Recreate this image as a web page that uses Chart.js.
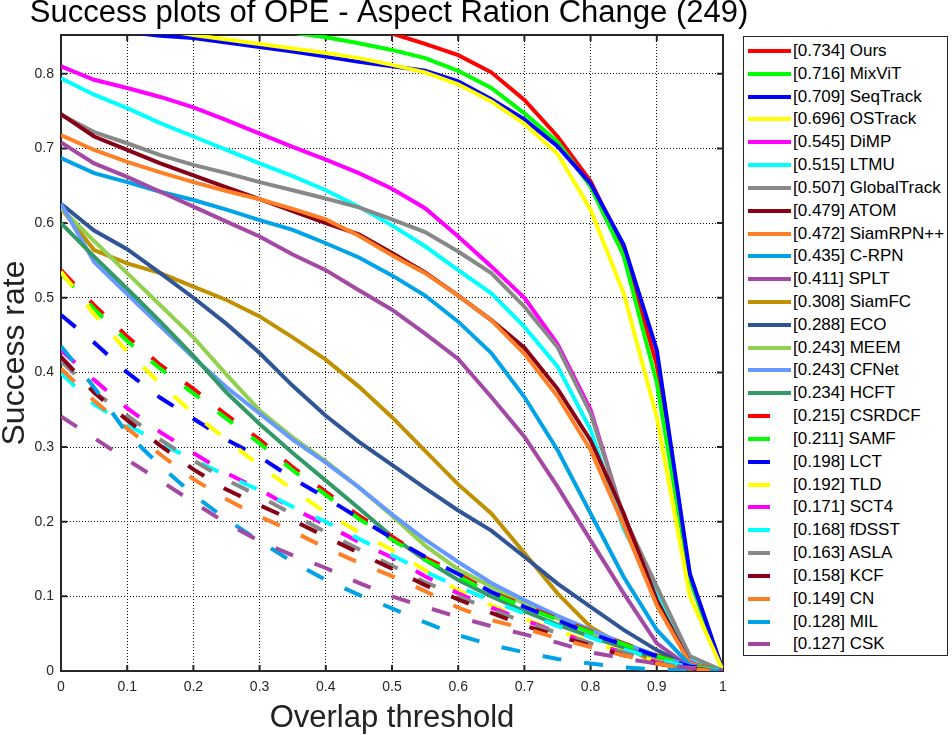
<!DOCTYPE html>
<html lang="en">
<head>
  <meta charset="UTF-8">
  <title>Success plots of OPE - Aspect Ration Change (249)</title>
  <script src="https://cdn.jsdelivr.net/npm/chart.js"></script>
  <style>
    html, body {
      margin: 0;
      padding: 0;
      background: #fff;
    }
    body {
      font-family: "Liberation Sans", Arial, sans-serif;
    }
    #wrap {
      position: relative;
      width: 952px;
      height: 735px;
      overflow: hidden;
    }
    #plot {
      position: absolute;
      left: 0;
      top: 0;
    }
    #legend {
      position: absolute;
      left: 743px;
      top: 36px;
      width: 205px;
      height: 620px;
      border: 1px solid #262626;
      box-sizing: border-box;
      background: #fff;
    }
    .row {
      position: absolute;
      left: 0;
      height: 20px;
      font-size: 17px;
      line-height: 20px;
      color: #000;
      white-space: nowrap;
    }
    .swatch {
      position: absolute;
      left: 4px;
      top: 8px;
      height: 4px;
    }
    .label {
      position: absolute;
      left: 49px;
      top: 0;
    }
  </style>
</head>
<body>
  <div id="wrap">
    <canvas id="plot" width="952" height="735"></canvas>
    <div id="legend"></div>
  </div>

  <script>
    const plotTitle = 'Success plots of OPE - Aspect Ration Change (249)';

    // overlap thresholds (x) and tick labels
    const thresholds = [0, 0.05, 0.1, 0.15, 0.2, 0.25, 0.3, 0.35, 0.4, 0.45, 0.5,
                        0.55, 0.6, 0.65, 0.7, 0.75, 0.8, 0.85, 0.9, 0.95, 1];
    const xTicks = [0, 0.1, 0.2, 0.3, 0.4, 0.5, 0.6, 0.7, 0.8, 0.9, 1];
    const yTicks = [0, 0.1, 0.2, 0.3, 0.4, 0.5, 0.6, 0.7, 0.8];

    const names = ['Ours', 'MixViT', 'SeqTrack', 'OSTrack', 'DiMP', 'LTMU', 'GlobalTrack',
                   'ATOM', 'SiamRPN++', 'C-RPN', 'SPLT', 'SiamFC', 'ECO', 'MEEM', 'CFNet',
                   'HCFT', 'CSRDCF', 'SAMF', 'LCT', 'TLD', 'SCT4', 'fDSST', 'ASLA', 'KCF',
                   'CN', 'MIL', 'CSK'];
    const aucScores = [0.734, 0.716, 0.709, 0.696, 0.545, 0.515, 0.507, 0.479, 0.472, 0.435,
                       0.411, 0.308, 0.288, 0.243, 0.243, 0.234, 0.215, 0.211, 0.198, 0.192,
                       0.171, 0.168, 0.163, 0.158, 0.149, 0.128, 0.127];

    // success rate per threshold
    const ours       = [0.91, 0.905, 0.9, 0.895, 0.89, 0.885, 0.879, 0.873, 0.867, 0.86, 0.854, 0.84, 0.825, 0.802, 0.765, 0.716, 0.656, 0.566, 0.41, 0.125, 0];
    const mixvit     = [0.885, 0.88, 0.875, 0.87, 0.866, 0.862, 0.858, 0.855, 0.849, 0.841, 0.832, 0.821, 0.804, 0.781, 0.747, 0.709, 0.649, 0.556, 0.386, 0.122, 0];
    const seqtrack   = [0.866, 0.861, 0.856, 0.851, 0.848, 0.842, 0.836, 0.83, 0.823, 0.816, 0.81, 0.804, 0.79, 0.766, 0.739, 0.703, 0.653, 0.571, 0.43, 0.13, 0];
    const ostrack    = [0.88, 0.873, 0.866, 0.859, 0.852, 0.846, 0.84, 0.834, 0.828, 0.821, 0.812, 0.802, 0.786, 0.763, 0.733, 0.693, 0.618, 0.506, 0.34, 0.1, 0];
    const dimp       = [0.81, 0.792, 0.781, 0.769, 0.755, 0.738, 0.72, 0.702, 0.685, 0.667, 0.646, 0.62, 0.582, 0.542, 0.5, 0.438, 0.35, 0.205, 0.1, 0.015, 0];
    const ltmu       = [0.794, 0.772, 0.754, 0.734, 0.716, 0.698, 0.68, 0.663, 0.644, 0.622, 0.597, 0.569, 0.537, 0.506, 0.461, 0.408, 0.323, 0.19, 0.105, 0.018, 0];
    const globaltrack = [0.745, 0.722, 0.707, 0.691, 0.678, 0.667, 0.655, 0.644, 0.633, 0.621, 0.605, 0.588, 0.562, 0.533, 0.488, 0.434, 0.345, 0.207, 0.113, 0.02, 0];
    const atom       = [0.746, 0.716, 0.698, 0.68, 0.664, 0.648, 0.632, 0.616, 0.6, 0.585, 0.56, 0.534, 0.503, 0.47, 0.433, 0.378, 0.309, 0.211, 0.095, 0.01, 0];
    const siamrpn    = [0.718, 0.698, 0.682, 0.668, 0.655, 0.643, 0.632, 0.619, 0.605, 0.583, 0.557, 0.533, 0.503, 0.47, 0.425, 0.368, 0.296, 0.195, 0.088, 0.01, 0];
    const crpn       = [0.687, 0.667, 0.655, 0.642, 0.631, 0.618, 0.604, 0.591, 0.573, 0.554, 0.53, 0.503, 0.468, 0.426, 0.367, 0.296, 0.211, 0.126, 0.055, 0.008, 0];
    const splt       = [0.708, 0.68, 0.662, 0.642, 0.622, 0.602, 0.582, 0.558, 0.537, 0.51, 0.484, 0.452, 0.418, 0.367, 0.314, 0.247, 0.175, 0.104, 0.037, 0.005, 0];
    const siamfc     = [0.62, 0.564, 0.546, 0.533, 0.515, 0.497, 0.475, 0.447, 0.417, 0.381, 0.34, 0.295, 0.25, 0.211, 0.158, 0.104, 0.059, 0.033, 0.01, 0.003, 0];
    const eco        = [0.626, 0.59, 0.565, 0.533, 0.5, 0.465, 0.426, 0.382, 0.342, 0.307, 0.276, 0.245, 0.215, 0.188, 0.153, 0.117, 0.086, 0.055, 0.028, 0.005, 0];
    const meem       = [0.62, 0.576, 0.533, 0.49, 0.447, 0.397, 0.349, 0.313, 0.281, 0.246, 0.208, 0.168, 0.136, 0.113, 0.09, 0.07, 0.052, 0.035, 0.019, 0.005, 0];
    const cfnet      = [0.626, 0.548, 0.505, 0.462, 0.42, 0.38, 0.345, 0.31, 0.279, 0.246, 0.21, 0.176, 0.146, 0.118, 0.095, 0.074, 0.055, 0.037, 0.021, 0.007, 0];
    const hcft       = [0.6, 0.555, 0.512, 0.468, 0.422, 0.373, 0.331, 0.292, 0.255, 0.218, 0.18, 0.149, 0.122, 0.1, 0.08, 0.062, 0.046, 0.031, 0.017, 0.005, 0];
    const csrdcf     = [0.537, 0.49, 0.448, 0.41, 0.378, 0.343, 0.31, 0.273, 0.24, 0.208, 0.18, 0.152, 0.13, 0.106, 0.088, 0.07, 0.053, 0.037, 0.021, 0.007, 0];
    const samf       = [0.533, 0.485, 0.442, 0.405, 0.372, 0.338, 0.305, 0.269, 0.236, 0.204, 0.176, 0.149, 0.127, 0.104, 0.086, 0.069, 0.052, 0.036, 0.02, 0.007, 0];
    const lct        = [0.477, 0.44, 0.4, 0.366, 0.338, 0.31, 0.287, 0.258, 0.232, 0.205, 0.178, 0.153, 0.13, 0.106, 0.086, 0.068, 0.05, 0.035, 0.02, 0.006, 0];
    const tld        = [0.535, 0.478, 0.428, 0.385, 0.345, 0.31, 0.275, 0.243, 0.212, 0.186, 0.162, 0.135, 0.108, 0.088, 0.07, 0.054, 0.039, 0.026, 0.013, 0.004, 0];
    const sct4       = [0.43, 0.39, 0.352, 0.32, 0.292, 0.265, 0.243, 0.218, 0.196, 0.173, 0.152, 0.127, 0.104, 0.085, 0.068, 0.052, 0.037, 0.025, 0.012, 0.004, 0];
    const fdsst      = [0.399, 0.357, 0.33, 0.305, 0.283, 0.262, 0.242, 0.22, 0.2, 0.177, 0.155, 0.133, 0.113, 0.094, 0.077, 0.06, 0.045, 0.029, 0.016, 0.005, 0];
    const asla       = [0.415, 0.374, 0.342, 0.31, 0.282, 0.256, 0.234, 0.21, 0.186, 0.163, 0.141, 0.119, 0.1, 0.082, 0.066, 0.051, 0.037, 0.025, 0.011, 0.003, 0];
    const kcf        = [0.421, 0.373, 0.336, 0.302, 0.27, 0.243, 0.222, 0.202, 0.18, 0.158, 0.137, 0.115, 0.096, 0.078, 0.061, 0.047, 0.034, 0.021, 0.01, 0.003, 0];
    const cn         = [0.405, 0.362, 0.325, 0.29, 0.257, 0.23, 0.207, 0.187, 0.165, 0.145, 0.127, 0.107, 0.085, 0.068, 0.057, 0.044, 0.032, 0.021, 0.01, 0.002, 0];
    const mil        = [0.435, 0.38, 0.318, 0.275, 0.236, 0.203, 0.174, 0.146, 0.122, 0.102, 0.084, 0.065, 0.048, 0.035, 0.025, 0.016, 0.01, 0.005, 0.002, 0.001, 0];
    const csk        = [0.341, 0.312, 0.283, 0.255, 0.226, 0.198, 0.174, 0.155, 0.138, 0.118, 0.1, 0.086, 0.072, 0.06, 0.049, 0.038, 0.025, 0.017, 0.01, 0.004, 0];

    const successRates = [ours, mixvit, seqtrack, ostrack, dimp, ltmu, globaltrack, atom, siamrpn,
                          crpn, splt, siamfc, eco, meem, cfnet, hcft, csrdcf, samf, lct, tld,
                          sct4, fdsst, asla, kcf, cn, mil, csk];

    // styles
    const baseColors = ['#ff0000', '#00ff00', '#0000ff', '#ffff00', '#ff00ff', '#00ffff',
                        '#888888', '#880015', '#ff7f27', '#00a2e8', '#a349a4', '#bf9000',
                        '#2f5597', '#92d050', '#6699ff', '#339966'];
    const lineColors = names.map((n, i) => baseColors[i < 16 ? i : i - 16]);
    const isDashed = names.map((n, i) => i >= 16);

    Chart.defaults.font.family = '"Liberation Sans", Arial, Helvetica, sans-serif';

    // box around the axes with inward ticks, like MATLAB
    const framePlugin = {
      id: 'frame',
      beforeDatasetsDraw(chart) {
        const { ctx, chartArea: a, scales: { x, y } } = chart;
        ctx.save();
        ctx.strokeStyle = '#262626';
        ctx.lineWidth = 2;
        ctx.strokeRect(a.left, a.top, a.right - a.left, a.bottom - a.top);
        ctx.beginPath();
        xTicks.forEach(v => {
          const px = x.getPixelForValue(v);
          ctx.moveTo(px, a.bottom); ctx.lineTo(px, a.bottom - 6);
          ctx.moveTo(px, a.top); ctx.lineTo(px, a.top + 6);
        });
        yTicks.forEach(v => {
          const py = y.getPixelForValue(v);
          ctx.moveTo(a.left, py); ctx.lineTo(a.left + 6, py);
          ctx.moveTo(a.right, py); ctx.lineTo(a.right - 6, py);
        });
        ctx.stroke();
        ctx.restore();
      }
    };

    // title a bit wider than the axes, so draw it without the width limit
    const titlePlugin = {
      id: 'plotTitle',
      afterDraw(chart) {
        const { ctx, chartArea: a } = chart;
        ctx.save();
        ctx.font = '31px "Liberation Sans", Arial, sans-serif';
        ctx.fillStyle = '#000';
        ctx.textAlign = 'center';
        ctx.textBaseline = 'alphabetic';
        ctx.fillText(plotTitle, (a.left + a.right) / 2 - 3, 22);
        ctx.restore();
      }
    };

    const datasets = names.map((name, i) => ({
      label: '[' + aucScores[i].toFixed(3) + '] ' + name,
      data: thresholds.map((t, k) => ({ x: t, y: successRates[i][k] })),
      borderColor: lineColors[i],
      backgroundColor: lineColors[i],
      borderWidth: 4,
      borderDash: isDashed[i] ? [19, 23] : [],
      pointRadius: 0,
      tension: 0,
      fill: false,
      // later curves are painted on top
      order: names.length - i
    }));

    const gridOpts = { color: '#111', lineWidth: 1, drawTicks: false };
    const borderOpts = { display: false, dash: [1, 2] };

    new Chart(document.getElementById('plot').getContext('2d'), {
      type: 'line',
      data: { datasets },
      options: {
        responsive: false,
        animation: false,
        layout: { padding: { left: 0, right: 229, top: 35, bottom: 0 } },
        plugins: {
          legend: { display: false },
          tooltip: { enabled: false },
          title: { display: false }
        },
        scales: {
          x: {
            type: 'linear',
            min: 0,
            max: 1,
            afterBuildTicks: s => { s.ticks = xTicks.map(v => ({ value: v })); },
            afterFit: s => { s.height = 64; },
            ticks: { callback: v => String(v), color: '#262626', font: { size: 14 }, padding: 8, maxRotation: 0, autoSkip: false },
            grid: gridOpts,
            border: borderOpts,
            title: { display: true, text: 'Overlap threshold', color: '#222', font: { size: 31, lineHeight: 1 }, padding: { top: 0, bottom: 1 } }
          },
          y: {
            type: 'linear',
            min: 0,
            max: 0.852,
            afterBuildTicks: s => { s.ticks = yTicks.map(v => ({ value: v })); },
            afterFit: s => { s.width = 61; },
            ticks: { callback: v => String(v), color: '#262626', font: { size: 14 }, padding: 7, autoSkip: false },
            grid: gridOpts,
            border: borderOpts,
            title: { display: true, text: 'Success rate', color: '#222', font: { size: 32, lineHeight: 1 }, padding: { top: -1, bottom: 0 } }
          }
        }
      },
      plugins: [framePlugin, titlePlugin]
    });

    // legend box on the right
    const legend = document.getElementById('legend');
    names.forEach((name, i) => {
      const row = document.createElement('div');
      row.className = 'row';
      row.style.top = (4 + i * 22.82) + 'px';
      row.style.width = '200px';
      const sw = document.createElement('div');
      sw.className = 'swatch';
      sw.style.width = (isDashed[i] ? 22 : 43) + 'px';
      sw.style.background = lineColors[i];
      const lab = document.createElement('span');
      lab.className = 'label';
      lab.textContent = '[' + aucScores[i].toFixed(3) + '] ' + name;
      row.appendChild(sw);
      row.appendChild(lab);
      legend.appendChild(row);
    });
  </script>
</body>
</html>
